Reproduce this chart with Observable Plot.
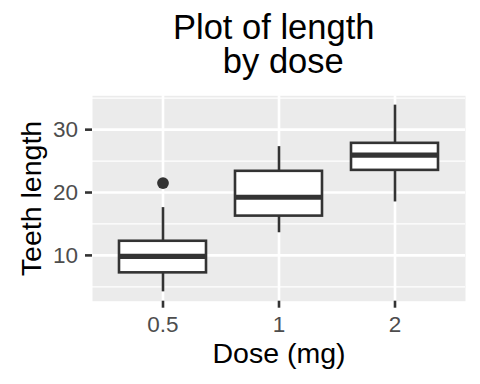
<!DOCTYPE html>
<html>
<head>
<meta charset="utf-8">
<script src="https://cdn.jsdelivr.net/npm/d3@7"></script>
<script src="https://cdn.jsdelivr.net/npm/@observablehq/plot@0.6"></script>
<style>
  html, body { margin: 0; padding: 0; background: white; overflow: hidden; }
  #title { position: relative; width: 480px; height: 88px; font-family: "Liberation Sans", Arial, sans-serif; font-size: 34.5px; color: #000; }
  #title div { position: absolute; left: 278.5px; transform: translateX(-50%); white-space: pre; line-height: 34.5px; }
  svg { display: block; }
</style>
</head>
<body>
<div id="title"><div style="top:9.8px">Plot of length </div><div style="top:44.3px"> by dose</div></div>
<div id="chart"></div>
<script>
// ToothGrowth: tooth length by vitamin C dose
const doses = ["0.5", "1", "2"];
const whiskerLow = [4.2, 13.6, 18.5];
const q1 = [7.225, 16.25, 23.525];
const medians = [9.85, 19.25, 25.95];
const q3 = [12.25, 23.375, 27.825];
const whiskerHigh = [17.6, 27.3, 33.9];
const outlierDose = ["0.5"];
const outlierLen = [21.5];
const yTicks = [10, 20, 30];
const yMinor = [5, 15, 25, 35];

const boxes = doses.map((d, i) => ({dose: d, lo: whiskerLow[i], q1: q1[i], med: medians[i], q3: q3[i], hi: whiskerHigh[i]}));
const outliers = outlierDose.map((d, i) => ({dose: d, len: outlierLen[i]}));

const chart = Plot.plot({
  width: 480,
  height: 296,
  marginTop: 7.3,
  marginBottom: 83.3,
  marginLeft: 92,
  marginRight: 15,
  style: {fontFamily: "'Liberation Sans', Arial, sans-serif", background: "white", color: "#000"},
  x: {type: "band", domain: doses, paddingInner: 0.25, paddingOuter: 0.225, align: 0.5},
  y: {domain: [2.715, 35.385]},
  marks: [
    Plot.frame({fill: "#EBEBEB", stroke: "none"}),
    Plot.ruleY(yMinor, {stroke: "white", strokeWidth: 1.3}),
    Plot.ruleY(yTicks, {stroke: "white", strokeWidth: 2.6}),
    Plot.ruleX(doses, {x: d => d, stroke: "white", strokeWidth: 2.6}),
    Plot.ruleX(boxes, {x: "dose", y1: "lo", y2: "q1", stroke: "#333333", strokeWidth: 2.6}),
    Plot.ruleX(boxes, {x: "dose", y1: "q3", y2: "hi", stroke: "#333333", strokeWidth: 2.6}),
    Plot.barY(boxes, {x: "dose", y1: "q1", y2: "q3", fill: "white", stroke: "#333333", strokeWidth: 2.6}),
    Plot.tickY(boxes, {x: "dose", y: "med", stroke: "#333333", strokeWidth: 5.2}),
    Plot.dot(outliers, {x: "dose", y: "len", r: 5.9, fill: "#333333", stroke: "none"}),
    Plot.axisY({ticks: yTicks, tickSize: 7, tickPadding: 7.5, fontSize: 22.5, label: null, fill: "#4D4D4D", stroke: "#333333", strokeWidth: 2.6}),
    Plot.axisX({tickSize: 7, tickPadding: 8, fontSize: 22.5, label: null, fill: "#4D4D4D", stroke: "#333333", strokeWidth: 2.6}),
    Plot.text(["Dose (mg)"], {frameAnchor: "bottom", textAnchor: "middle", lineAnchor: "bottom", dy: 61.3, fontSize: 28.5, fill: "#000"}),
    Plot.text(["Teeth length"], {frameAnchor: "left", textAnchor: "middle", lineAnchor: "bottom", rotate: -90, dx: -51.6, fontSize: 28.5, fill: "#000"})
  ]
});
document.getElementById("chart").appendChild(chart);
</script>
</body>
</html>
